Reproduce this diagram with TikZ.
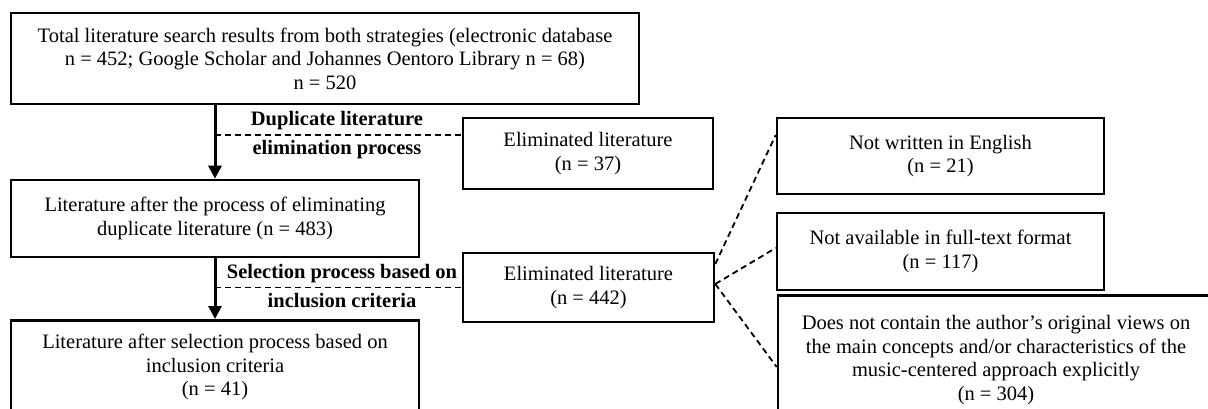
\documentclass[tikz,border=0pt]{standalone}
\usepackage{fontspec}
\setmainfont{Liberation Serif}
\usetikzlibrary{arrows.meta,calc}
\newcommand\fsz{\fontsize{20.5}{23.5}\selectfont}
\begin{document}
\begin{tikzpicture}[x=1pt,y=-1pt,
  box/.style={draw, line width=2.6pt, align=center, inner sep=0pt, font=\fsz},
  lbl/.style={font=\fsz\bfseries, inner sep=0pt, anchor=base},
  arrowline/.style={line width=3pt, -{Triangle[width=13pt,length=13pt]}},
  dline/.style={line width=1.8pt, dash pattern=on 6pt off 4pt}]
\useasboundingbox (0,0) rectangle (1208,409);

\node[box, minimum width=628pt, minimum height=91pt] (top) at (325,58.5)
  {Total literature search results from both strategies (electronic database\\
   n = 452; Google Scholar and Johannes Oentoro Library n = 68)\\ n = 520};
\node[box, minimum width=250pt, minimum height=71pt] (e37) at (588,153.5)
  {Eliminated literature\\(n = 37)};
\node[box, minimum width=408pt, minimum height=77pt] (B) at (215,218.5)
  {Literature after the process of eliminating\\duplicate literature (n = 483)};
\node[box, minimum width=251pt, minimum height=69pt] (e442) at (588.5,287.5)
  {Eliminated literature\\(n = 442)};
\node[box, minimum width=408pt, anchor=north, inner ysep=14pt, text depth=80pt] (C) at (215,319)
  {Literature after selection process based on\\inclusion criteria\\(n = 41)};
\node[box, minimum width=327pt, minimum height=76pt] (r1) at (940.5,156)
  {Not written in English\\(n = 21)};
\node[box, minimum width=327pt, minimum height=77pt] (r2) at (940.5,251.5)
  {Not available in full-text format\\(n = 117)};
\node[box, minimum width=436pt, anchor=north, inner ysep=20pt, text depth=80pt] (r3) at (996,294)
  {Does not contain the author’s original views on\\
   the main concepts and/or characteristics of the\\
   music-centered approach explicitly\\(n = 304)};

\draw[arrowline] (B.north |- top.south) -- (B.north);
\draw[arrowline] (B.south) -- (C.north);

\coordinate (d1) at (215,135);
\draw[dline] (d1) -- (d1 -| e37.west);
\coordinate (d2) at (215,287.5);
\draw[dline] (d2) -- (e442.west);

\node[lbl] (l1a) at (337,126) {Duplicate literature};
\node[lbl] (l1b) at (337,155) {elimination process};
\node[lbl] (l2a) at (342,278) {Selection process based on};
\node[lbl] (l2b) at (342,307) {inclusion criteria};

\path (0,264) coordinate (ya) (0,284) coordinate (yb)
      (0,135) coordinate (y1) (0,248) coordinate (y2) (0,367) coordinate (y3);
\draw[dline] (e442.east |- ya) -- (r1.west |- y1);
\draw[dline] (e442.east |- yb) -- (r2.west |- y2);
\draw[dline] (e442.east |- yb) -- (r3.west |- y3);
\end{tikzpicture}
\end{document}
